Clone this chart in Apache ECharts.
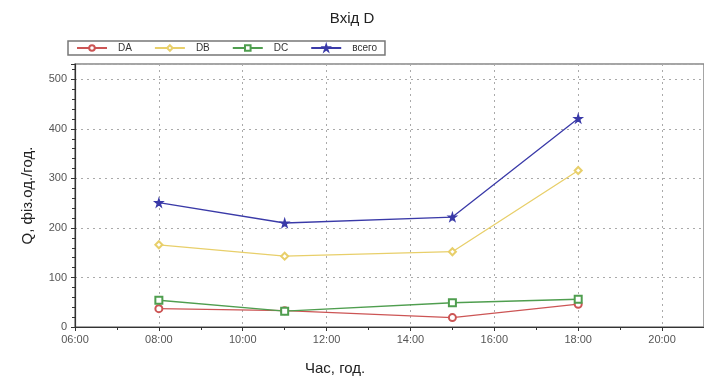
<!DOCTYPE html>
<html>
<head>
<meta charset="utf-8">
<script src="https://cdn.jsdelivr.net/npm/echarts@6/dist/echarts.min.js"></script>
<style>
  html, body { margin: 0; padding: 0; background: #fff; }
  #chart { width: 704px; height: 382px; }
</style>
</head>
<body>
<div id="chart"></div>
<script>
// hours of the day (x) and counts per direction
const hours = [8, 11, 15, 18]
const seriesNames = ['DA', 'DB', 'DC', 'всего']
const da = [37, 33, 19, 46]
const db = [166, 143, 152, 316]
const dc = [54, 32, 49, 56]
const total = [251, 210, 222, 421]

const colors = ['#cc5555', '#e8cf6a', '#4f9e4f', '#3a3aa8']
const starPath = 'path://M50,0 L61,35 L98,35 L68,57 L79,91 L50,70 L21,91 L32,57 L2,35 L39,35 Z'
const font = 'Liberation Sans, Arial, sans-serif'

const chart = echarts.init(document.getElementById('chart'), null, { renderer: 'canvas' })

function pairs(vals) {
  return hours.map((h, i) => [h, vals[i]])
}

function line(name, vals, color, symbol, size) {
  return {
    name: name,
    type: 'line',
    data: pairs(vals),
    symbol: symbol,
    symbolSize: size,
    showAllSymbol: true,
    lineStyle: { color: color, width: 1.3 },
    itemStyle: { color: color, borderColor: color, borderWidth: 1.3 },
    emphasis: { disabled: true }
  }
}

chart.setOption({
  animation: false,
  textStyle: { fontFamily: font },
  title: [
    { text: 'Вхід D', left: 'center', top: 6, textStyle: { fontSize: 15, fontWeight: 'normal', color: '#222', fontFamily: font } },
    { text: 'Час, год.', left: 300, top: 356, textStyle: { fontSize: 15, fontWeight: 'normal', color: '#222', fontFamily: font } }
  ],
  legend: {
    left: 68,
    top: 41,
    padding: [2, 8],
    borderColor: '#777',
    borderWidth: 1.5,
    itemWidth: 30,
    itemHeight: 7,
    itemGap: 22,
    textStyle: { fontSize: 10, color: '#333', padding: [0, 0, 0, 6] },
    data: seriesNames
  },
  grid: {
    left: 75, top: 64, right: -13, bottom: 55,
    show: true, borderColor: '#888', borderWidth: 1.5
  },
  xAxis: {
    type: 'value',
    min: 6,
    max: 21,
    interval: 2,
    axisLine: { lineStyle: { color: '#333', width: 1.2 } },
    axisTick: { length: 4, lineStyle: { color: '#333' } },
    minorTick: { show: true, splitNumber: 2, length: 3, lineStyle: { color: '#333' } },
    axisLabel: {
      color: '#555', fontSize: 11, margin: 7, showMaxLabel: false,
      formatter: v => (v < 10 ? '0' : '') + v + ':00'
    },
    splitLine: { show: true, lineStyle: { color: '#aaa', type: [2, 4] } }
  },
  yAxis: {
    type: 'value',
    min: 0,
    max: 531,
    interval: 100,
    name: 'Q, фіз.од./год.',
    nameLocation: 'middle',
    nameGap: 40,
    nameTextStyle: { fontSize: 15, color: '#222' },
    axisLine: { show: true, lineStyle: { color: '#333', width: 1.2 } },
    axisTick: { show: true, length: 4, lineStyle: { color: '#333' } },
    minorTick: { show: true, splitNumber: 5, length: 3, lineStyle: { color: '#333' } },
    axisLabel: { color: '#555', fontSize: 11, margin: 8, showMaxLabel: false },
    splitLine: { show: true, lineStyle: { color: '#aaa', type: [2, 4] } }
  },
  series: [
    line('DA', da, colors[0], 'emptyCircle', 7),
    line('DB', db, colors[1], 'emptyDiamond', 7),
    line('DC', dc, colors[2], 'emptyRect', 7),
    line('всего', total, colors[3], starPath, 8)
  ]
})
</script>
</body>
</html>
